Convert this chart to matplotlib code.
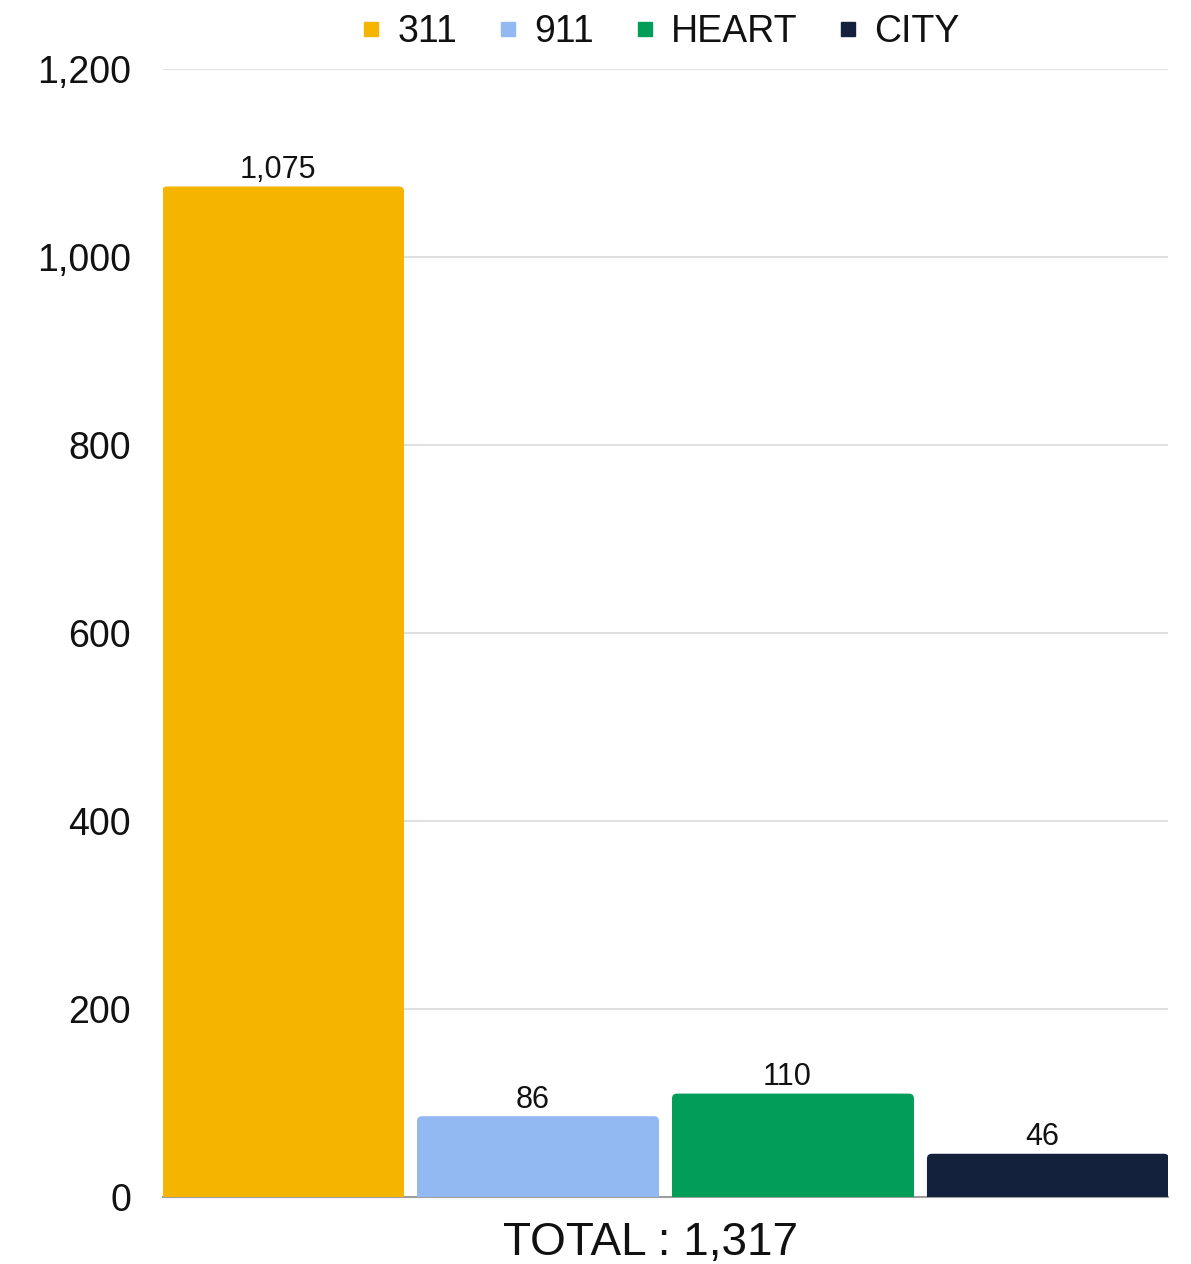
import matplotlib
matplotlib.use("Agg")
import matplotlib.pyplot as plt
from matplotlib.patches import FancyBboxPatch
from matplotlib.lines import Line2D

plt.rcParams['font.family'] = ['Liberation Sans', 'DejaVu Sans']

series = ["311", "911", "HEART", "CITY"]
values = [1075, 86, 110, 46]
colors = ["#F4B400", "#93B9F3", "#019D59", "#14213D"]
category_label = "TOTAL : 1,317"
yticks = [0, 200, 400, 600, 800, 1000, 1200]

fig = plt.figure(figsize=(11.91, 12.64), dpi=100)
W, H = 1191, 1264
ax = fig.add_axes([163 / W, 67 / H, (1168 - 163) / W, (1197 - 69) / H])

step = 0.2537
width = 0.2408
offsets = [(i - 1.5) * step for i in range(len(series))]

ax.set_xlim(-0.5, 0.5)
ax.set_ylim(0, 1200)

# px per data unit, used to keep rounded corners circular
px_x = (1168 - 163)
px_y = (1197 - 69) / 1200
r_px = 5
rx = r_px / px_x
aspect = (r_px / px_y) / rx

for name, val, col, off in zip(series, values, colors, offsets):
    bars = ax.bar(off, val, width=width, color=col, alpha=0)
    b = bars[0]
    x0 = b.get_x()
    patch = FancyBboxPatch((x0, -20), width, val + 20,
                           boxstyle=f"round,pad=0,rounding_size={rx}",
                           mutation_aspect=aspect, facecolor=col,
                           edgecolor="none", zorder=3, clip_on=True)
    ax.add_patch(patch)
    ax.annotate(f"{val:,}", (off, val), xytext=(-4, 1), textcoords="offset points",
                ha="center", va="bottom", fontsize=22, color="#111111")

ax.set_yticks(yticks)
ax.set_yticklabels([f"{v:,}" for v in yticks], fontsize=27, color="#111111")
ax.set_xticks([-0.015])
ax.set_xticklabels([category_label], fontsize=33, color="#111111")
ax.tick_params(axis="y", length=0, pad=23)
ax.tick_params(axis="x", length=0, pad=17)

ax.grid(axis="y", color="#D9D9D9", linewidth=1.2, zorder=0)
ax.set_axisbelow(True)
for s in ["top", "right", "left"]:
    ax.spines[s].set_visible(False)
ax.spines["bottom"].set_color("#9E9E9E")
ax.spines["bottom"].set_linewidth(1.5)
ax.spines["bottom"].set_zorder(2)

handles = [Line2D([], [], marker="s", linestyle="none", markersize=10,
                  markerfacecolor=c, markeredgecolor=c) for c in colors]
fig.legend(handles, series, loc="center", bbox_to_anchor=(660 / W, 1 - 32 / H),
           ncol=4, frameon=False, fontsize=27, handlelength=0.6,
           handletextpad=0.4, columnspacing=1.05, labelcolor="#111111")

fig.savefig("out.png", dpi=100, facecolor="white")
